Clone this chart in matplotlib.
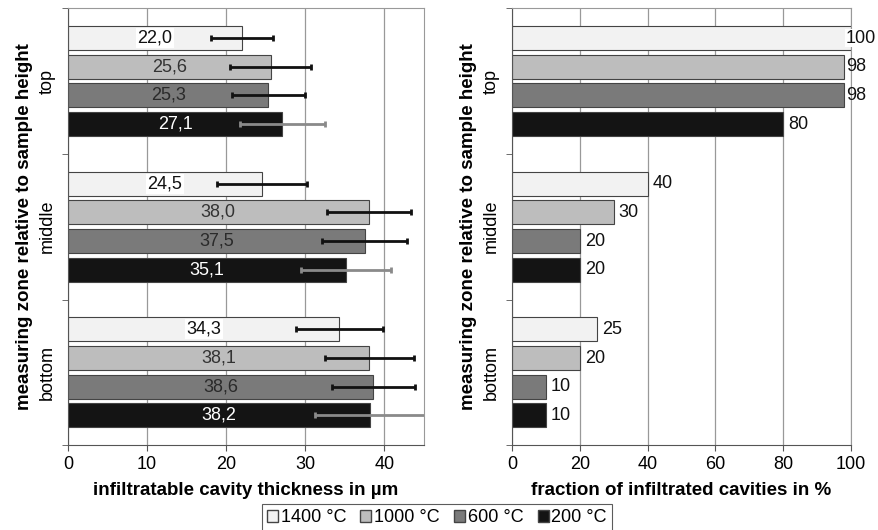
import matplotlib.pyplot as plt
from matplotlib.patches import Patch
import numpy as np

plt.rcParams["font.family"] = ["Liberation Sans", "DejaVu Sans"]

zones = ["top", "middle", "bottom"]
series = ["1400 °C", "1000 °C", "600 °C", "200 °C"]
colors = ["#f2f2f2", "#bdbdbd", "#7a7a7a", "#141414"]
text_colors = ["#111111", "#333333", "#2a2a2a", "white"]
err_colors = ["#111111", "#111111", "#111111", "#8a8a8a"]

# infiltratable cavity thickness in µm, rows = series, cols = zones
thickness = [
    [22.0, 24.5, 34.3],
    [25.6, 38.0, 38.1],
    [25.3, 37.5, 38.6],
    [27.1, 35.1, 38.2],
]
thickness_err = [
    [3.9, 5.7, 5.5],
    [5.1, 5.3, 5.6],
    [4.6, 5.4, 5.2],
    [5.4, 5.7, 7.0],
]
# fraction of infiltrated cavities in %
fraction = [
    [100, 40, 25],
    [98, 30, 20],
    [98, 20, 10],
    [80, 20, 10],
]

fig = plt.figure(figsize=(8.79, 5.30), dpi=100)
ax1 = fig.add_axes([0.0774, 0.160, 0.405, 0.8245])
ax2 = fig.add_axes([0.5825, 0.160, 0.3857, 0.8245])

ypos = np.arange(len(zones))
pitch = 0.197
height = 0.164


def style_axes(ax, xlim, xticks, xlabel):
    ax.set_xlim(*xlim)
    ax.set_ylim(2.5, -0.5)
    ax.set_xticks(xticks)
    ax.set_yticks(ypos)
    ax.set_yticklabels(zones, rotation=90, va="center", fontsize=13)
    ax.set_yticks([-0.5, 0.5, 1.5, 2.5], minor=True)
    ax.tick_params(axis="y", which="major", length=0, pad=9)
    ax.tick_params(axis="y", which="minor", length=4, color="#555555")
    ax.tick_params(axis="x", length=4, color="#555555", labelsize=13)
    ax.grid(axis="x", color="#999999", linewidth=0.9)
    ax.set_axisbelow(True)
    for side in ["top", "right"]:
        ax.spines[side].set_color("#999999")
    for side in ["left", "bottom"]:
        ax.spines[side].set_color("#555555")
    ax.set_xlabel(xlabel, fontsize=13.5, fontweight="bold", labelpad=7)
    ax.set_ylabel("measuring zone relative to sample height", fontsize=13.5,
                  fontweight="bold", labelpad=4)


for i, name in enumerate(series):
    y = ypos + (i - 1.5) * pitch
    ax1.barh(y, thickness[i], height=height, color=colors[i], edgecolor="#444444",
             linewidth=0.8, zorder=2)
    ax1.errorbar(thickness[i], y, xerr=thickness_err[i], fmt="none", ecolor=err_colors[i],
                 elinewidth=2, capsize=2, capthick=2, zorder=3, clip_on=True)
    for yy, v in zip(y, thickness[i]):
        label = f"{v:.1f}".replace(".", ",")
        kw = {}
        if i == 0:
            kw["bbox"] = dict(facecolor="white", edgecolor="none", pad=1)
        ax1.text(v / 2, yy, label, ha="center", va="center", fontsize=13,
                 color=text_colors[i], zorder=4, **kw)

    ax2.barh(y, fraction[i], height=height, color=colors[i], edgecolor="#444444",
             linewidth=0.8, zorder=2)
    for yy, v in zip(y, fraction[i]):
        kw = {}
        if v >= 100:
            kw["bbox"] = dict(facecolor="white", edgecolor="none", pad=0.5)
        ax2.text(min(v, 97.0) + 1.5, yy, f"{v}", ha="left", va="center", fontsize=13,
                 color="#111111", zorder=4, **kw)

style_axes(ax1, (0, 45), [0, 10, 20, 30, 40], "infiltratable cavity thickness in µm")
style_axes(ax2, (0, 100), [0, 20, 40, 60, 80, 100], "fraction of infiltrated cavities in %")

handles = [Patch(facecolor=c, edgecolor="#444444", label=n) for c, n in zip(colors, series)]
leg = fig.legend(handles=handles, loc="lower center", bbox_to_anchor=(0.497, -0.02), ncol=4,
                 fontsize=13, frameon=True, fancybox=False, handlelength=0.6,
                 handleheight=0.6, handletextpad=0.15, columnspacing=0.8,
                 borderpad=0.3)
leg.get_frame().set_edgecolor("#333333")
leg.get_frame().set_linewidth(0.8)

fig.savefig("out.png", dpi=100)
